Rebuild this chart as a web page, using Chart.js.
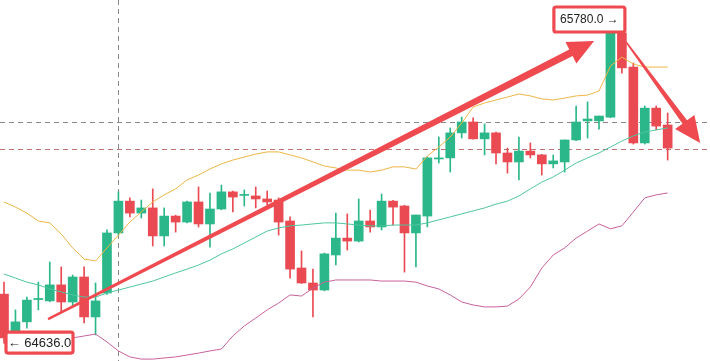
<!DOCTYPE html>
<html>
<head>
<meta charset="utf-8">
<script src="https://cdn.jsdelivr.net/npm/chart.js@4"></script>
<style>
  html, body { margin: 0; padding: 0; background: #ffffff; }
  #chart { display: block; }
</style>
</head>
<body>
<canvas id="chart" width="710" height="361"></canvas>
<script>
// candle data, one entry per bar
const opens = [64816,64647,64714,64796,64791,64850,64787,64879,64732,64820,65041,65158,65114,65133,65030,65103,65081,65155,65074,65129,65192,65179,65177,65166,65162,65085,64912,64857,64831,64960,65022,65011,65085,65063,65158,65140,65041,65103,65313,65317,65409,65449,65387,65409,65335,65302,65342,65328,65295,65302,65383,65453,65453,65467,65776,65651,65372,65500,65438];
const highs = [64860,64758,64805,64860,64934,64916,64886,64916,64857,65052,65192,65170,65162,65203,65133,65106,65158,65210,65188,65217,65195,65199,65210,65195,65170,65100,64975,64908,64967,65114,65111,65166,65125,65184,65161,65143,65107,65320,65394,65427,65467,65464,65442,65412,65353,65394,65372,65330,65328,65383,65508,65523,65471,65780,65780,65666,65508,65508,65482];
const lows = [64636,64640,64691,64758,64788,64750,64772,64710,64666,64815,65033,65100,65096,64993,64993,65044,65078,65063,64989,65126,65118,65140,65133,65144,65033,64875,64855,64732,64828,64923,64978,65008,65044,65052,65070,64897,64916,65063,65298,65265,65390,65386,65328,65295,65261,65236,65317,65254,65280,65265,65380,65390,65423,65465,65629,65368,65368,65420,65309];
const closes = [64655,64714,64794,64800,64850,64787,64879,64732,64791,65041,65158,65114,65133,65030,65103,65081,65155,65074,65129,65192,65173,65182,65166,65155,65081,64908,64857,64831,64964,65022,65011,65085,65063,65158,65136,65041,65107,65317,65317,65409,65449,65387,65409,65335,65302,65342,65328,65295,65306,65383,65449,65460,65471,65776,65648,65372,65500,65434,65353];

// bollinger bands
const upperBand = [65155,65136,65114,65085,65078,65037,64986,64945,64938,64986,65033,65081,65118,65155,65181,65203,65236,65254,65276,65295,65309,65320,65331,65339,65339,65328,65317,65302,65287,65280,65272,65272,65265,65272,65284,65284,65276,65324,65357,65394,65445,65504,65519,65530,65541,65552,65545,65534,65530,65537,65545,65548,65563,65655,65688,65662,65651,65651,65651];
const midBand = [64890,64875,64860,64850,64835,64824,64813,64805,64805,64820,64831,64842,64853,64864,64879,64894,64908,64923,64941,64964,64982,65004,65026,65048,65059,65067,65070,65074,65078,65078,65074,65070,65067,65067,65070,65070,65070,65078,65089,65100,65111,65122,65133,65147,65158,65177,65203,65228,65247,65272,65298,65317,65335,65357,65379,65398,65412,65420,65427];
const lowerBand = [64636,64621,64625,64629,64636,64644,64655,64662,64669,64640,64607,64585,64577,64577,64581,64585,64592,64599,64607,64614,64662,64699,64728,64758,64783,64813,64809,64838,64860,64868,64868,64868,64868,64864,64864,64864,64860,64846,64835,64813,64787,64776,64769,64769,64772,64798,64842,64912,64960,64986,65022,65048,65074,65056,65067,65118,65170,65181,65188];

// dashed price lines and the dashed time marker
const priceLines = [65449, 65351];
const markerBars = [10];

// price tags: text, bar index, price
const tagTexts = ["65780.0 \u2192", "\u2190 64636.0"];
const tagBars = [54, 0];
const tagPrices = [65780, 64636];

// trend arrows: [fromBar, fromPrice, toBar, toPrice]
const arrows = [
  [3.85, 64724, 51.57, 65747],
  [54.37, 65743, 60.84, 65372]
];

const GREEN = "#2bb789";
const RED = "#ea4a52";
const ARROW = "#ef4a4f";

const candleColors = closes.map((c, i) => c >= opens[i] ? GREEN : RED);
const toXY = arr => arr.map((v, i) => ({ x: i, y: v }));

const overlays = {
  id: "overlays",
  beforeDatasetsDraw(chart) {
    const { ctx, chartArea: a, scales: { x, y } } = chart;
    ctx.save();
    ctx.lineWidth = 1;
    ctx.setLineDash([5, 4]);
    priceLines.forEach((p, i) => {
      const py = Math.round(y.getPixelForValue(p)) + 0.5;
      ctx.strokeStyle = i === 0 ? "#8f8585" : "#c07272";
      ctx.beginPath();
      ctx.moveTo(a.left, py);
      ctx.lineTo(a.right, py);
      ctx.stroke();
    });
    markerBars.forEach(b => {
      const px = Math.round(x.getPixelForValue(b)) + 0.5;
      ctx.strokeStyle = "#8a8a8a";
      ctx.beginPath();
      ctx.moveTo(px, a.top);
      ctx.lineTo(px, a.bottom);
      ctx.stroke();
    });
    ctx.restore();
  },
  afterDatasetsDraw(chart) {
    const { ctx, scales: { x, y } } = chart;
    ctx.save();

    // arrows
    ctx.fillStyle = ARROW;
    arrows.forEach((ar, k) => {
      const x0 = x.getPixelForValue(ar[0]), y0 = y.getPixelForValue(ar[1]);
      const x1 = x.getPixelForValue(ar[2]), y1 = y.getPixelForValue(ar[3]);
      const len = Math.hypot(x1 - x0, y1 - y0);
      const ux = (x1 - x0) / len, uy = (y1 - y0) / len;
      const nx = -uy, ny = ux;
      const w0 = k === 0 ? 1.2 : 0.8;
      const w1 = k === 0 ? 3.6 : 2.8;
      const headLen = 26, headHalf = 12;
      const bx = x1 - ux * headLen, by = y1 - uy * headLen;
      ctx.beginPath();
      ctx.moveTo(x0 + nx * w0, y0 + ny * w0);
      ctx.lineTo(bx + nx * w1, by + ny * w1);
      ctx.lineTo(bx + nx * headHalf, by + ny * headHalf);
      ctx.lineTo(x1, y1);
      ctx.lineTo(bx - nx * headHalf, by - ny * headHalf);
      ctx.lineTo(bx - nx * w1, by - ny * w1);
      ctx.lineTo(x0 - nx * w0, y0 - ny * w0);
      ctx.closePath();
      ctx.fill();
    });

    // price tags
    tagTexts.forEach((t, i) => {
      const bxp = x.getPixelForValue(tagBars[i]);
      const byp = y.getPixelForValue(tagPrices[i]);
      let left, top, w, h, fs;
      if (i === 0) {
        w = 71; h = 25; fs = 12;
        left = bxp + 3 - w; top = byp - h;
      } else {
        w = 67; h = 21; fs = 13;
        left = bxp + 2; top = byp - 11;
      }
      ctx.fillStyle = "#ffffff";
      ctx.strokeStyle = ARROW;
      ctx.lineWidth = 3.2;
      ctx.beginPath();
      ctx.roundRect(left, top, w, h, 2);
      ctx.fill();
      ctx.stroke();
      ctx.fillStyle = "#222222";
      ctx.font = fs + 'px "Liberation Sans", Arial, sans-serif';
      ctx.textAlign = "center";
      ctx.textBaseline = "middle";
      ctx.fillText(t, left + w / 2, top + h / 2 + 0.5);
    });
    ctx.restore();
  }
};

new Chart(document.getElementById("chart"), {
  type: "bar",
  data: {
    datasets: [
      {
        type: "line",
        data: toXY(upperBand),
        borderColor: "#eeb646",
        borderWidth: 1,
        pointRadius: 0,
        tension: 0,
        order: 0
      },
      {
        type: "line",
        data: toXY(midBand),
        borderColor: "#4fc6a0",
        borderWidth: 1,
        pointRadius: 0,
        tension: 0,
        order: 0
      },
      {
        type: "line",
        data: toXY(lowerBand),
        borderColor: "#c9619a",
        borderWidth: 1,
        pointRadius: 0,
        tension: 0,
        order: 0
      },
      {
        data: lows.map((l, i) => ({ x: i, y: [l, highs[i]] })),
        backgroundColor: candleColors,
        barThickness: 1,
        grouped: false,
        order: 2
      },
      {
        data: opens.map((o, i) => ({ x: i, y: [o, closes[i]] })),
        backgroundColor: candleColors,
        barThickness: 9,
        minBarLength: 1,
        grouped: false,
        order: 1
      }
    ]
  },
  options: {
    responsive: false,
    animation: false,
    layout: { padding: 0 },
    plugins: {
      legend: { display: false },
      tooltip: { enabled: false }
    },
    scales: {
      x: {
        type: "linear",
        display: false,
        offset: false,
        min: -0.35,
        max: 61.7
      },
      y: {
        display: false,
        min: 64570,
        max: 65897.7
      }
    }
  },
  plugins: [overlays]
});
</script>
</body>
</html>
